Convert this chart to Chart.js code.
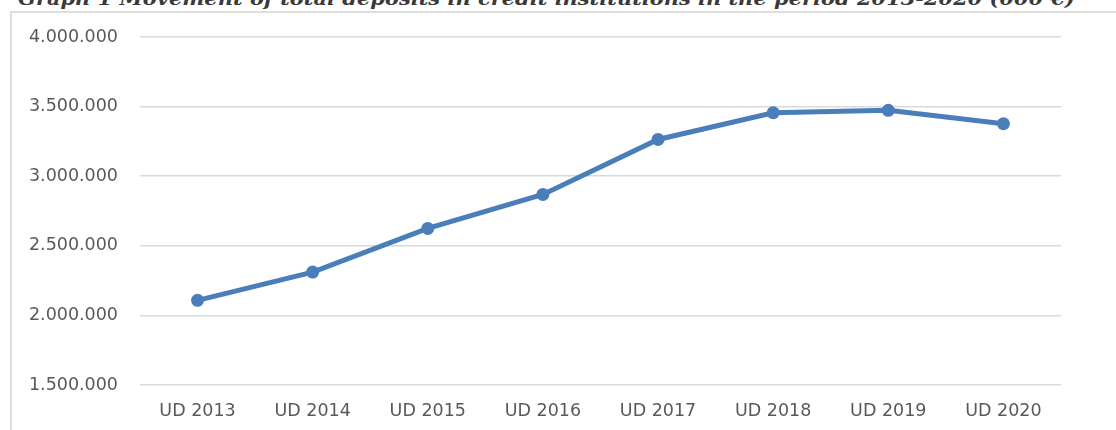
<!DOCTYPE html>
<html>
<head>
<meta charset="utf-8">
<script src="https://cdn.jsdelivr.net/npm/chart.js@4/dist/chart.umd.min.js"></script>
<style>
  html, body { margin: 0; padding: 0; background: #fff; width: 1116px; height: 430px; overflow: hidden; }
  #title {
    position: absolute; left: 18px; top: -13px; white-space: nowrap;
    font-family: "DejaVu Serif", serif; font-weight: bold; font-style: italic;
    font-size: 19px; color: #3a3a3a; transform-origin: 0 0;
  }
  #box {
    position: absolute; left: 10px; top: 11px; width: 1200px; height: 500px;
    border: 2px solid #dedede; box-sizing: border-box;
  }
  #wrap { position: absolute; left: 0; top: 0; width: 1116px; height: 430px; }
</style>
</head>
<body>
<div id="title">Graph 1 Movement of total deposits in credit institutions in the period 2013-2020 (000 €)</div>
<div id="box"></div>
<div id="wrap"><canvas id="c" width="1116" height="430"></canvas></div>
<script>
const categories = ["UD 2013", "UD 2014", "UD 2015", "UD 2016", "UD 2017", "UD 2018", "UD 2019", "UD 2020"];
const deposits = [2108000, 2311000, 2625000, 2869000, 3264000, 3456000, 3473000, 3377000];
const yTicks = [1500000, 2000000, 2500000, 3000000, 3500000, 4000000];

// fit title width
(function(){
  const t = document.getElementById('title');
  const w = t.getBoundingClientRect().width;
  const target = 1057;
  t.style.transform = 'scaleX(' + (target / w) + ')';
})();

function fmt(v) {
  return String(v).replace(/\B(?=(\d{3})+(?!\d))/g, '.');
}

const tickFont = { family: '"DejaVu Sans"', size: 17.5 };

new Chart(document.getElementById('c'), {
  type: 'line',
  data: {
    labels: categories,
    datasets: [{
      data: deposits,
      borderColor: '#4a7ebb',
      backgroundColor: '#4a7ebb',
      borderWidth: 5,
      pointRadius: 6.5,
      pointHoverRadius: 6.5,
      pointBackgroundColor: '#4a7ebb',
      pointBorderColor: '#4a7ebb',
      pointBorderWidth: 0,
      tension: 0,
      clip: false
    }]
  },
  options: {
    responsive: false,
    animation: false,
    devicePixelRatio: 1,
    layout: { padding: { left: 0, right: 55, top: 37, bottom: 0 } },
    plugins: { legend: { display: false }, tooltip: { enabled: false }, title: { display: false } },
    scales: {
      x: {
        offset: true,
        grid: { display: false, drawTicks: false },
        border: { display: false },
        ticks: {
          color: '#595959', font: tickFont,
          padding: 16, maxRotation: 0, minRotation: 0, autoSkip: false
        },
        afterFit: s => { s.height = 45; }
      },
      y: {
        min: 1500000, max: 4000000,
        afterBuildTicks: s => { s.ticks = yTicks.map(v => ({ value: v })); },
        grid: { color: '#d9d9d9', lineWidth: 1.5, drawTicks: false },
        border: { display: false },
        ticks: {
          color: '#595959', font: tickFont, padding: 22,
          callback: v => fmt(v)
        },
        afterFit: s => { s.width = 140; }
      }
    }
  }
});
</script>
</body>
</html>
